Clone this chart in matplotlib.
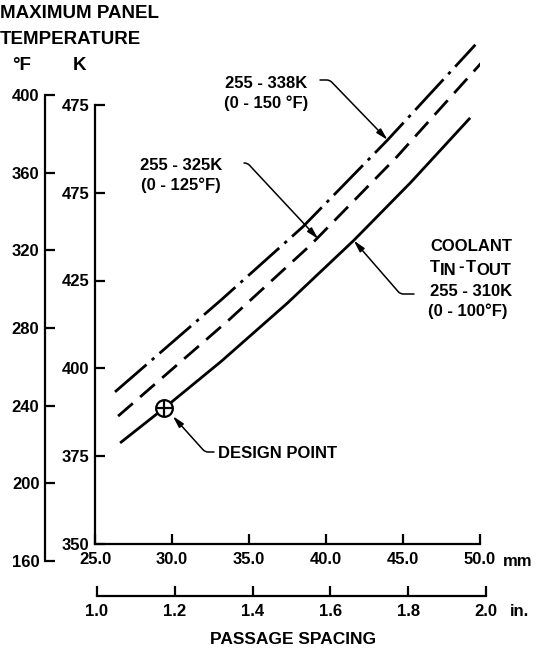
import numpy as np
import matplotlib.pyplot as plt

plt.rcParams['font.family'] = ['Liberation Sans', 'DejaVu Sans']
plt.rcParams['font.weight'] = 'bold'

# Curvas: temperatura maxima del panel (K) vs separacion de pasajes (mm)
mm_310 = [26.7, 29.5, 33.2, 37.5, 41.8, 45.5, 49.3]
k_310 = [379.0, 388.7, 402.0, 418.6, 436.4, 452.9, 471.0]
mm_325 = [26.5, 33.7, 39.0, 44.6, 50.1]
k_325 = [386.4, 413.8, 435.1, 460.2, 487.0]
mm_338 = [26.3, 33.2, 38.5, 44.0, 49.7]
k_338 = [393.3, 419.5, 440.3, 465.0, 492.1]

# Punto de diseno
design_mm = [29.5]
design_k = [388.7]

# Ejes
mm_ticks = [25, 30, 35, 40, 45, 50]
mm_labels = ['25.0', '30.0', '35.0', '40.0', '45.0', '50.0']
in_ticks = [1.0, 1.2, 1.4, 1.6, 1.8, 2.0]
in_labels = ['1.0', '1.2', '1.4', '1.6', '1.8', '2.0']
k_ticks = [350, 375, 400, 425, 450, 475]
k_labels = ['350', '375', '400', '425', '475', '475']
f_ticks = [160, 200, 240, 280, 320, 360, 400]

W, H = 536, 652


def box(x0, y0, x1, y1):
    # pixeles desde arriba-izquierda -> fraccion de figura
    return [x0 / W, 1 - y1 / H, (x1 - x0) / W, (y1 - y0) / H]


def fp(x, y):
    return (x / W, 1 - y / H)


fig = plt.figure(figsize=(W / 100, H / 100), dpi=100)

tick_kw = dict(direction='in', length=7, width=1.6, labelsize=12)

# Eje principal (mm / K)
ax = fig.add_axes(box(95, 17, 480, 544))
ax.set_xlim(25, 50)
ax.set_ylim(350, 500)
for s in ['top', 'right']:
    ax.spines[s].set_visible(False)
ax.spines['left'].set_bounds(350, 475)
ax.spines['bottom'].set_bounds(25, 50)
for s in ['left', 'bottom']:
    ax.spines[s].set_linewidth(1.6)
ax.set_xticks(mm_ticks, mm_labels)
ax.set_yticks(k_ticks, k_labels)
ax.tick_params(axis='x', pad=6, **tick_kw)
ax.tick_params(axis='y', pad=4, **tick_kw)

ax.plot(mm_310, k_310, color='black', lw=2.0, solid_joinstyle='round')
ax.plot(mm_325, k_325, color='black', lw=2.0, dashes=(7, 3.5))
ax.plot(mm_338, k_338, color='black', lw=2.0, dashes=(15, 2.5, 1.2, 2.5))

ax.plot(design_mm, design_k, 'o', ms=12, mfc='white', mec='black', mew=1.6, zorder=5)
ax.plot(design_mm, design_k, '+', ms=12, color='black', mew=1.6, zorder=6)

# Eje °F
axf = fig.add_axes(box(45, 95, 46, 561))
axf.set_ylim(160, 400)
axf.set_xticks([])
for s in ['top', 'right', 'bottom']:
    axf.spines[s].set_visible(False)
axf.spines['left'].set_linewidth(1.6)
axf.patch.set_visible(False)
axf.set_yticks(f_ticks, [str(t) for t in f_ticks])
axf.tick_params(axis='y', pad=4, **tick_kw)

# Eje en pulgadas
axi = fig.add_axes(box(97, 590, 486, 596))
axi.set_xlim(1.0, 2.0)
axi.set_yticks([])
for s in ['top', 'right', 'left']:
    axi.spines[s].set_visible(False)
axi.spines['bottom'].set_linewidth(1.6)
axi.patch.set_visible(False)
axi.set_xticks(in_ticks, in_labels)
axi.tick_params(axis='x', pad=6, **tick_kw)

# Textos
fig.text(*fp(0, 14), 'MAXIMUM PANEL', fontsize=13.5, va='center', ha='left')
fig.text(*fp(0, 39), 'TEMPERATURE', fontsize=13.5, va='center', ha='left')
fig.text(*fp(12, 66), '°F', fontsize=13.5, va='center', ha='left')
fig.text(*fp(73, 66), 'K', fontsize=13.5, va='center', ha='left')
fig.text(*fp(503, 561), 'mm', fontsize=12, va='center', ha='left')
fig.text(*fp(510, 612), 'in.', fontsize=12, va='center', ha='left')
fig.text(*fp(293, 639), 'PASSAGE SPACING', fontsize=12.5, va='center', ha='center')

fig.text(*fp(266, 84), '255 - 338K', fontsize=12, va='center', ha='center')
fig.text(*fp(266, 103), '(0 - 150 °F)', fontsize=12, va='center', ha='center')
fig.text(*fp(181, 166), '255 - 325K', fontsize=12, va='center', ha='center')
fig.text(*fp(181, 185), '(0 - 125°F)', fontsize=12, va='center', ha='center')

fig.text(*fp(430, 247), 'COOLANT', fontsize=12, va='center', ha='left')
fig.text(*fp(430, 267), 'T', fontsize=12, va='center', ha='left')
fig.text(*fp(440, 271), 'IN', fontsize=12, va='center', ha='left')
fig.text(*fp(458, 267), '-', fontsize=12, va='center', ha='left')
fig.text(*fp(466, 267), 'T', fontsize=12, va='center', ha='left')
fig.text(*fp(476, 271), 'OUT', fontsize=12, va='center', ha='left')
fig.text(*fp(430, 291), '255 - 310K', fontsize=12, va='center', ha='left')
fig.text(*fp(428, 311), '(0 - 100°F)', fontsize=12, va='center', ha='left')
fig.text(*fp(218, 453), 'DESIGN POINT', fontsize=12, va='center', ha='left')

# Flechas
arrow = dict(arrowstyle='-|>,head_length=0.7,head_width=0.18', color='black',
             lw=1.1, shrinkA=0, shrinkB=0)
ax.annotate('', xy=(44.0, 465.0), xytext=fp(320, 80), textcoords='figure fraction',
            arrowprops=dict(connectionstyle='angle,angleA=0,angleB=-46,rad=3', **arrow))
ax.annotate('', xy=(39.5, 436.8), xytext=fp(244, 163), textcoords='figure fraction',
            arrowprops=dict(connectionstyle='angle,angleA=0,angleB=-47,rad=3', **arrow))
ax.annotate('', xy=(41.8, 436.4), xytext=fp(414, 294), textcoords='figure fraction',
            arrowprops=dict(connectionstyle='angle,angleA=180,angleB=131,rad=3', **arrow))
ax.annotate('', xy=(30.05, 386.4), xytext=fp(214, 452), textcoords='figure fraction',
            arrowprops=dict(connectionstyle='angle,angleA=180,angleB=132,rad=3', **arrow))

fig.savefig('out.png', dpi=100, facecolor='white')
